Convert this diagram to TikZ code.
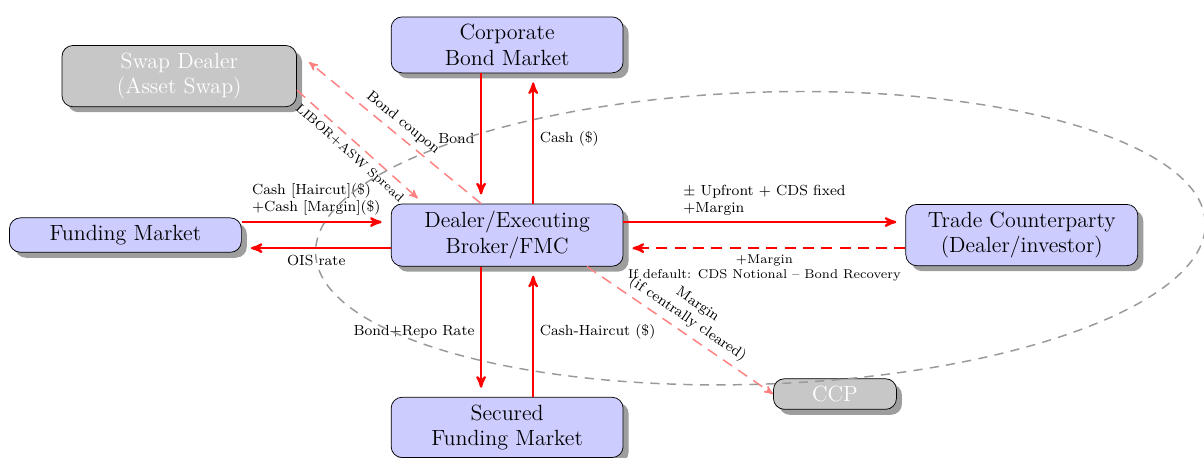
\documentclass[tikz,border=0pt]{standalone}
\usepackage{tikz}
\usetikzlibrary{positioning}
\usetikzlibrary{arrows}
\usetikzlibrary{shapes}
\usetikzlibrary{shadows}

\begin{document}
\begin{tikzpicture} [
    node distance=2.5cm and 2.86cm,    % spacing round the dealer box
    ]
% -------------------------------------------------
\tikzset{
  base/.style={draw, rounded corners=6pt, align=center, inner sep=4pt, font=\large,
     drop shadow={shadow xshift=3pt, shadow yshift=-3pt, fill=black!38, opacity=1}},
  mkt/.style={base, fill=blue!20, minimum width=4.45cm},
  off/.style={base, fill=black!22, text=white},
  flow/.style={draw=red, very thick, -stealth', shorten >=5pt},
  back/.style={flow, dash pattern=on 6pt off 4pt},
  side/.style={draw=red!50, thick, -stealth', dash pattern=on 6pt off 4pt},
  lbl/.style={font=\footnotesize, inner sep=3pt}
}

    \useasboundingbox (-9.73,-4.26) rectangle (13.37,4.51);

    \node [mkt] (dlr) {Dealer/Executing\\Broker/FMC};
    \node [mkt, above=of dlr] (cbm) {Corporate\\Bond Market};
    \node [mkt, below=of dlr] (sfm) {Secured\\Funding Market};
    \node [mkt, left=of dlr] (fnd) {Funding Market};
    \node [mkt, right=5.41cm of dlr] (tcp) {Trade Counterparty\\(Dealer/investor)};
    \node [off, minimum width=4.5cm] (swp) at (-6.29,3.05) {Swap Dealer\\(Asset Swap)};
    \node [off, minimum width=2.36cm] (ccp) at (6.29,-3.05) {CCP};

    \path [flow] ([xshift=-0.5cm]cbm.south) -- node [lbl, left] (bnd) {Bond} ([xshift=-0.5cm]dlr.north);
    \path [flow] ([xshift=0.5cm]dlr.north) -- node [lbl, right] (csh) {Cash (\$)} ([xshift=0.5cm]cbm.south);
    \path [flow] ([xshift=-0.5cm]dlr.south) -- node [lbl, left] (rpo) {Bond+Repo Rate} ([xshift=-0.5cm]sfm.north);
    \path [flow] ([xshift=0.5cm]sfm.north) -- node [lbl, right] (hct) {Cash-Haircut (\$)} ([xshift=0.5cm]dlr.south);

    \path [flow] ([yshift=0.25cm]fnd.east) -- node [lbl, above, align=left] (fin) {Cash [Haircut](\$)\\+Cash [Margin](\$)} ([yshift=0.25cm]dlr.west);
    \path [flow] ([yshift=-0.25cm]dlr.west) -- node [lbl, below] (ois) {OIS rate} ([yshift=-0.25cm]fnd.east);

    \path [flow] ([yshift=0.25cm]dlr.east) -- node [lbl, above, align=left] (upf) {$\pm$ Upfront + CDS fixed\\+Margin} ([yshift=0.25cm]tcp.west);
    \path [back] ([yshift=-0.25cm]tcp.west) -- node [lbl, below, align=center, font=\scriptsize] (dft) {+Margin\\If default: CDS Notional -- Bond Recovery} ([yshift=-0.25cm]dlr.east);

    \path [side] ([xshift=-0.5cm]dlr.north) -- node [lbl, above, sloped] (cpn) {Bond coupon} ([xshift=0.23cm,yshift=0.27cm]swp.east);
    \path [side] ([yshift=-0.27cm]swp.east) -- node [lbl, below, sloped, font=\scriptsize] (asw) {LIBOR+ASW Spread} ([xshift=0.52cm,yshift=0.1cm]dlr.north west);
    \path [side] ([xshift=-0.7cm]dlr.south east) -- node [lbl, above, sloped, align=center] (mrg) {Margin\\(if centrally cleared)} (ccp.west);

    % clearing loop
    \draw [gray!80, thick, dash pattern=on 5pt off 4pt, rotate around={2:(4.86,-0.06)}] (4.86,-0.06) ellipse (8.54 and 2.8);

\end{tikzpicture}
\end{document}
